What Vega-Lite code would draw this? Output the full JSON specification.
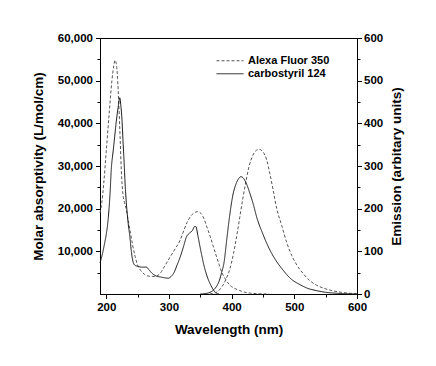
{
  "$schema": "https://vega.github.io/schema/vega-lite/v6.json",
  "width": 257,
  "height": 256,
  "autosize": {"type": "none"},
  "padding": {"left": 100, "top": 38, "right": 79, "bottom": 72},
  "background": "white",
  "config": {
    "view": {"stroke": "black", "strokeWidth": 1},
    "font": "Liberation Sans",
    "axis": {
      "grid": false,
      "domainColor": "black",
      "tickColor": "black",
      "labelColor": "black",
      "titleColor": "black",
      "labelFont": "Liberation Sans",
      "labelFontWeight": "bold",
      "labelFontSize": 11.5,
      "titleFont": "Liberation Sans",
      "titleFontWeight": "bold",
      "titleFontSize": 13.5,
      "labelOverlap": false,
      "labelFlush": false,
      "labelBound": false
    },
    "legend": {
      "orient": "none",
      "legendX": 116,
      "legendY": 17,
      "symbolType": "stroke",
      "symbolSize": 729,
      "symbolStrokeWidth": 1,
      "clipHeight": 11.5,
      "rowPadding": 0,
      "padding": 0,
      "labelOffset": 4,
      "labelFont": "Liberation Sans",
      "labelFontWeight": "bold",
      "labelFontSize": 11,
      "labelColor": "black",
      "title": null
    }
  },
  "datasets": {
    "absorption": [
      {"dye": "Alexa Fluor 350", "wl": 190, "v": 19000},
      {"dye": "Alexa Fluor 350", "wl": 193, "v": 21500},
      {"dye": "Alexa Fluor 350", "wl": 196, "v": 26000},
      {"dye": "Alexa Fluor 350", "wl": 200, "v": 33500},
      {"dye": "Alexa Fluor 350", "wl": 205, "v": 43000},
      {"dye": "Alexa Fluor 350", "wl": 209, "v": 50000},
      {"dye": "Alexa Fluor 350", "wl": 212, "v": 53500},
      {"dye": "Alexa Fluor 350", "wl": 214, "v": 54800},
      {"dye": "Alexa Fluor 350", "wl": 216, "v": 54000},
      {"dye": "Alexa Fluor 350", "wl": 218, "v": 50500},
      {"dye": "Alexa Fluor 350", "wl": 220, "v": 44500},
      {"dye": "Alexa Fluor 350", "wl": 222, "v": 37000},
      {"dye": "Alexa Fluor 350", "wl": 224, "v": 29000},
      {"dye": "Alexa Fluor 350", "wl": 226.5, "v": 23500},
      {"dye": "Alexa Fluor 350", "wl": 229, "v": 21500},
      {"dye": "Alexa Fluor 350", "wl": 232, "v": 19800},
      {"dye": "Alexa Fluor 350", "wl": 235, "v": 17300},
      {"dye": "Alexa Fluor 350", "wl": 238, "v": 14800},
      {"dye": "Alexa Fluor 350", "wl": 242, "v": 11500},
      {"dye": "Alexa Fluor 350", "wl": 246, "v": 8800},
      {"dye": "Alexa Fluor 350", "wl": 250, "v": 6800},
      {"dye": "Alexa Fluor 350", "wl": 255, "v": 5500},
      {"dye": "Alexa Fluor 350", "wl": 261, "v": 4600},
      {"dye": "Alexa Fluor 350", "wl": 267, "v": 4200},
      {"dye": "Alexa Fluor 350", "wl": 274, "v": 4100},
      {"dye": "Alexa Fluor 350", "wl": 280, "v": 4200},
      {"dye": "Alexa Fluor 350", "wl": 286, "v": 4850},
      {"dye": "Alexa Fluor 350", "wl": 293, "v": 6500},
      {"dye": "Alexa Fluor 350", "wl": 302, "v": 8700},
      {"dye": "Alexa Fluor 350", "wl": 310, "v": 10600},
      {"dye": "Alexa Fluor 350", "wl": 318, "v": 12650},
      {"dye": "Alexa Fluor 350", "wl": 324, "v": 15000},
      {"dye": "Alexa Fluor 350", "wl": 329, "v": 16800},
      {"dye": "Alexa Fluor 350", "wl": 335, "v": 18300},
      {"dye": "Alexa Fluor 350", "wl": 340, "v": 19000},
      {"dye": "Alexa Fluor 350", "wl": 346, "v": 19300},
      {"dye": "Alexa Fluor 350", "wl": 351, "v": 18900},
      {"dye": "Alexa Fluor 350", "wl": 356, "v": 17600},
      {"dye": "Alexa Fluor 350", "wl": 361, "v": 15500},
      {"dye": "Alexa Fluor 350", "wl": 366, "v": 13400},
      {"dye": "Alexa Fluor 350", "wl": 371, "v": 11000},
      {"dye": "Alexa Fluor 350", "wl": 376, "v": 8700},
      {"dye": "Alexa Fluor 350", "wl": 380, "v": 6900},
      {"dye": "Alexa Fluor 350", "wl": 384, "v": 5200},
      {"dye": "Alexa Fluor 350", "wl": 390, "v": 3500},
      {"dye": "Alexa Fluor 350", "wl": 397, "v": 2100},
      {"dye": "Alexa Fluor 350", "wl": 405, "v": 1300},
      {"dye": "Alexa Fluor 350", "wl": 413, "v": 800},
      {"dye": "Alexa Fluor 350", "wl": 420, "v": 450},
      {"dye": "Alexa Fluor 350", "wl": 430, "v": 200},
      {"dye": "Alexa Fluor 350", "wl": 445, "v": 60},
      {"dye": "Alexa Fluor 350", "wl": 460, "v": 0},
      {"dye": "carbostyril 124", "wl": 190, "v": 7300},
      {"dye": "carbostyril 124", "wl": 194, "v": 9500},
      {"dye": "carbostyril 124", "wl": 197.5, "v": 12000},
      {"dye": "carbostyril 124", "wl": 200, "v": 14000},
      {"dye": "carbostyril 124", "wl": 203, "v": 17500},
      {"dye": "carbostyril 124", "wl": 206, "v": 23500},
      {"dye": "carbostyril 124", "wl": 208, "v": 29200},
      {"dye": "carbostyril 124", "wl": 211, "v": 33500},
      {"dye": "carbostyril 124", "wl": 213.5, "v": 37000},
      {"dye": "carbostyril 124", "wl": 216, "v": 40500},
      {"dye": "carbostyril 124", "wl": 219, "v": 43800},
      {"dye": "carbostyril 124", "wl": 221.5, "v": 46000},
      {"dye": "carbostyril 124", "wl": 223, "v": 44500},
      {"dye": "carbostyril 124", "wl": 225, "v": 41000},
      {"dye": "carbostyril 124", "wl": 227, "v": 35000},
      {"dye": "carbostyril 124", "wl": 228.5, "v": 30800},
      {"dye": "carbostyril 124", "wl": 230, "v": 26000},
      {"dye": "carbostyril 124", "wl": 232, "v": 21400},
      {"dye": "carbostyril 124", "wl": 235, "v": 16500},
      {"dye": "carbostyril 124", "wl": 237.5, "v": 13600},
      {"dye": "carbostyril 124", "wl": 240, "v": 10000},
      {"dye": "carbostyril 124", "wl": 243, "v": 7400},
      {"dye": "carbostyril 124", "wl": 246, "v": 6700},
      {"dye": "carbostyril 124", "wl": 250, "v": 6500},
      {"dye": "carbostyril 124", "wl": 256, "v": 6300},
      {"dye": "carbostyril 124", "wl": 264, "v": 6300},
      {"dye": "carbostyril 124", "wl": 268, "v": 5700},
      {"dye": "carbostyril 124", "wl": 272, "v": 5000},
      {"dye": "carbostyril 124", "wl": 280, "v": 4200},
      {"dye": "carbostyril 124", "wl": 286, "v": 4000},
      {"dye": "carbostyril 124", "wl": 293, "v": 3800},
      {"dye": "carbostyril 124", "wl": 299, "v": 3700},
      {"dye": "carbostyril 124", "wl": 304, "v": 4200},
      {"dye": "carbostyril 124", "wl": 308, "v": 5000},
      {"dye": "carbostyril 124", "wl": 313, "v": 6800},
      {"dye": "carbostyril 124", "wl": 318, "v": 8700},
      {"dye": "carbostyril 124", "wl": 323, "v": 11000},
      {"dye": "carbostyril 124", "wl": 328, "v": 13400},
      {"dye": "carbostyril 124", "wl": 333, "v": 14300},
      {"dye": "carbostyril 124", "wl": 337, "v": 14800},
      {"dye": "carbostyril 124", "wl": 341, "v": 15800},
      {"dye": "carbostyril 124", "wl": 343, "v": 15800},
      {"dye": "carbostyril 124", "wl": 346, "v": 13800},
      {"dye": "carbostyril 124", "wl": 349, "v": 11500},
      {"dye": "carbostyril 124", "wl": 352, "v": 9300},
      {"dye": "carbostyril 124", "wl": 355, "v": 7200},
      {"dye": "carbostyril 124", "wl": 359, "v": 5000},
      {"dye": "carbostyril 124", "wl": 363, "v": 3300},
      {"dye": "carbostyril 124", "wl": 367, "v": 2000},
      {"dye": "carbostyril 124", "wl": 371, "v": 940},
      {"dye": "carbostyril 124", "wl": 376, "v": 150},
      {"dye": "carbostyril 124", "wl": 380, "v": 0}
    ],
    "emission": [
      {"dye": "Alexa Fluor 350", "wl": 365, "e": 0},
      {"dye": "Alexa Fluor 350", "wl": 372, "e": 2},
      {"dye": "Alexa Fluor 350", "wl": 378, "e": 6},
      {"dye": "Alexa Fluor 350", "wl": 385, "e": 18},
      {"dye": "Alexa Fluor 350", "wl": 392, "e": 38},
      {"dye": "Alexa Fluor 350", "wl": 397, "e": 58},
      {"dye": "Alexa Fluor 350", "wl": 403, "e": 95},
      {"dye": "Alexa Fluor 350", "wl": 408, "e": 135},
      {"dye": "Alexa Fluor 350", "wl": 413, "e": 180},
      {"dye": "Alexa Fluor 350", "wl": 418, "e": 225},
      {"dye": "Alexa Fluor 350", "wl": 423, "e": 265},
      {"dye": "Alexa Fluor 350", "wl": 428, "e": 300},
      {"dye": "Alexa Fluor 350", "wl": 433, "e": 322},
      {"dye": "Alexa Fluor 350", "wl": 438, "e": 335},
      {"dye": "Alexa Fluor 350", "wl": 444, "e": 339},
      {"dye": "Alexa Fluor 350", "wl": 450, "e": 333},
      {"dye": "Alexa Fluor 350", "wl": 456, "e": 314},
      {"dye": "Alexa Fluor 350", "wl": 461, "e": 282},
      {"dye": "Alexa Fluor 350", "wl": 466, "e": 245},
      {"dye": "Alexa Fluor 350", "wl": 472, "e": 200},
      {"dye": "Alexa Fluor 350", "wl": 480, "e": 160},
      {"dye": "Alexa Fluor 350", "wl": 488, "e": 120},
      {"dye": "Alexa Fluor 350", "wl": 496, "e": 90},
      {"dye": "Alexa Fluor 350", "wl": 504, "e": 68},
      {"dye": "Alexa Fluor 350", "wl": 514, "e": 48},
      {"dye": "Alexa Fluor 350", "wl": 525, "e": 31},
      {"dye": "Alexa Fluor 350", "wl": 535, "e": 21},
      {"dye": "Alexa Fluor 350", "wl": 546, "e": 14},
      {"dye": "Alexa Fluor 350", "wl": 560, "e": 8},
      {"dye": "Alexa Fluor 350", "wl": 575, "e": 4},
      {"dye": "Alexa Fluor 350", "wl": 590, "e": 1.5},
      {"dye": "Alexa Fluor 350", "wl": 600, "e": 0.5},
      {"dye": "carbostyril 124", "wl": 350, "e": 0},
      {"dye": "carbostyril 124", "wl": 358, "e": 1},
      {"dye": "carbostyril 124", "wl": 364, "e": 3},
      {"dye": "carbostyril 124", "wl": 370, "e": 8},
      {"dye": "carbostyril 124", "wl": 375, "e": 16},
      {"dye": "carbostyril 124", "wl": 380, "e": 30},
      {"dye": "carbostyril 124", "wl": 384, "e": 50},
      {"dye": "carbostyril 124", "wl": 388, "e": 75},
      {"dye": "carbostyril 124", "wl": 392, "e": 125},
      {"dye": "carbostyril 124", "wl": 397, "e": 185},
      {"dye": "carbostyril 124", "wl": 402, "e": 232},
      {"dye": "carbostyril 124", "wl": 407, "e": 258},
      {"dye": "carbostyril 124", "wl": 411, "e": 270},
      {"dye": "carbostyril 124", "wl": 415, "e": 275},
      {"dye": "carbostyril 124", "wl": 419, "e": 271},
      {"dye": "carbostyril 124", "wl": 424, "e": 257},
      {"dye": "carbostyril 124", "wl": 430, "e": 232},
      {"dye": "carbostyril 124", "wl": 435, "e": 208},
      {"dye": "carbostyril 124", "wl": 440, "e": 180},
      {"dye": "carbostyril 124", "wl": 450, "e": 140},
      {"dye": "carbostyril 124", "wl": 460, "e": 106},
      {"dye": "carbostyril 124", "wl": 470, "e": 80},
      {"dye": "carbostyril 124", "wl": 482, "e": 56},
      {"dye": "carbostyril 124", "wl": 495, "e": 35},
      {"dye": "carbostyril 124", "wl": 509, "e": 22},
      {"dye": "carbostyril 124", "wl": 520, "e": 14},
      {"dye": "carbostyril 124", "wl": 535, "e": 8},
      {"dye": "carbostyril 124", "wl": 550, "e": 4},
      {"dye": "carbostyril 124", "wl": 570, "e": 1.5},
      {"dye": "carbostyril 124", "wl": 600, "e": 0}
    ]
  },
  "encoding": {
    "x": {
      "field": "wl",
      "type": "quantitative",
      "scale": {"domain": [190, 600], "nice": false, "zero": false},
      "axis": {
        "title": "Wavelength (nm)",
        "values": [200, 250, 300, 350, 400, 450, 500, 550, 600],
        "labelExpr": "datum.value % 100 === 0 ? format(datum.value, 'd') : ''",
        "tickSize": {"condition": {"test": "datum.value % 100 === 0", "value": 4.5}, "value": 3},
        "labelPadding": 3,
        "titlePadding": 9
      }
    },
    "color": {
      "field": "dye",
      "type": "nominal",
      "scale": {"domain": ["Alexa Fluor 350", "carbostyril 124"], "range": ["#555555", "#1a1a1a"]}
    },
    "strokeDash": {
      "field": "dye",
      "type": "nominal",
      "scale": {"domain": ["Alexa Fluor 350", "carbostyril 124"], "range": [[3, 2], [1, 0]]}
    }
  },
  "layer": [
    {
      "data": {"name": "absorption"},
      "mark": {"type": "line", "strokeWidth": 1, "interpolate": "monotone"},
      "encoding": {
        "y": {
          "field": "v",
          "type": "quantitative",
          "scale": {"domain": [0, 60000], "nice": false},
          "axis": {
            "orient": "left",
            "title": "Molar absorptivity (L/mol/cm)",
            "values": [5000, 10000, 15000, 20000, 25000, 30000, 35000, 40000, 45000, 50000, 55000, 60000],
            "labelExpr": "datum.value % 10000 === 0 ? format(datum.value, ',') : ''",
            "tickSize": {"condition": {"test": "datum.value % 10000 === 0", "value": 4.5}, "value": 3},
            "labelPadding": 3,
            "titlePadding": 12
          }
        }
      }
    },
    {
      "data": {"name": "emission"},
      "mark": {"type": "line", "strokeWidth": 1, "interpolate": "monotone"},
      "encoding": {
        "y": {
          "field": "e",
          "type": "quantitative",
          "scale": {"domain": [0, 600], "nice": false},
          "axis": {
            "orient": "right",
            "title": "Emission (arbitary units)",
            "values": [0, 50, 100, 150, 200, 250, 300, 350, 400, 450, 500, 550, 600],
            "labelExpr": "datum.value % 100 === 0 ? format(datum.value, 'd') : ''",
            "tickSize": {"condition": {"test": "datum.value % 100 === 0", "value": 4.5}, "value": 3},
            "labelPadding": 2,
            "titleAngle": -90,
            "titleBaseline": "top",
            "titlePadding": 7
          }
        }
      }
    }
  ],
  "resolve": {"scale": {"y": "independent"}}
}
